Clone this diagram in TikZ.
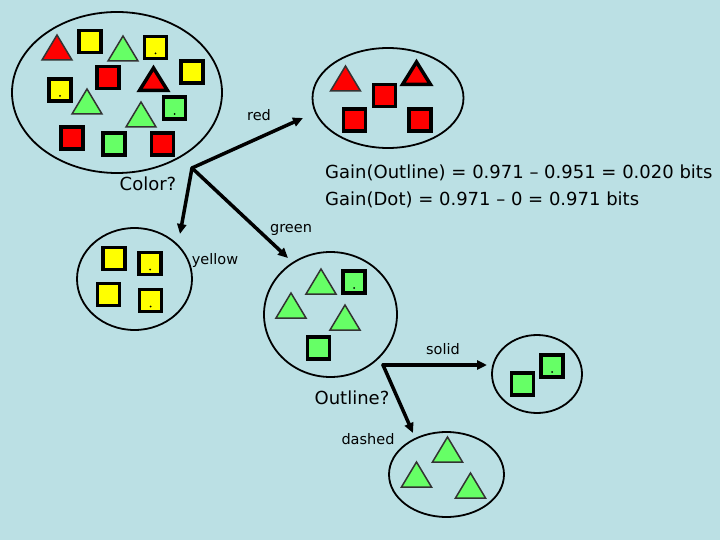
\documentclass[tikz,border=0pt]{standalone}
\usepackage{fontspec}
\setmainfont{DejaVu Sans}
\usetikzlibrary{shapes.geometric,arrows.meta}
\definecolor{bgc}{RGB}{187,224,228}
\definecolor{gr}{RGB}{102,255,102}
\definecolor{yl}{RGB}{255,255,0}
\definecolor{rd}{RGB}{255,0,0}
\newcommand{\mysq}[4]{%
  \filldraw[fill=#3,line width=3.4pt,draw=black] ({#1-11},{#2-11}) rectangle ({#1+11},{#2+11});
  \ifx#4y\fill[black] ({#1},{#2+6}) circle (1pt);\fi}
\newcommand{\mytri}[3]{%
  \filldraw[fill=#3,line width=1.5pt,line join=miter,draw=black!80] ({#1-15},#2) -- ({#1},{#2-25}) -- ({#1+15},#2) -- cycle;}
\newcommand{\mytrithick}[3]{%
  \filldraw[fill=#3,line width=3.5pt,line join=miter,draw=black] ({#1-14},{#2-1.5}) -- ({#1},{#2-24}) -- ({#1+14},{#2-1.5}) -- cycle;}
\begin{document}
\begin{tikzpicture}[x=1pt,y=-1pt,
  setell/.style={ellipse,draw=black,line width=1.8pt,inner sep=0pt},
  lbl/.style={font=\fontsize{14.5}{17}\selectfont,inner sep=0pt},
  qlbl/.style={font=\fontsize{18}{21}\selectfont,inner sep=0pt},
  glbl/.style={font=\fontsize{18}{21}\selectfont,inner sep=0pt,anchor=west},
  arr/.style={line width=3.5pt,line cap=round,-{Triangle[length=10pt,width=9pt]}}]
\fill[bgc] (0,0) rectangle (720,540);
\useasboundingbox (0,0) rectangle (720,540);
% set ellipses
\node[setell,minimum width=210,minimum height=161] (s1) at (117,92.5) {};
\node[setell,minimum width=151,minimum height=100] (s2) at (388,98) {};
\node[setell,minimum width=115,minimum height=102] (s3) at (134.5,279) {};
\node[setell,minimum width=133,minimum height=125] (s4) at (330.5,314.5) {};
\node[setell,minimum width=115,minimum height=85] (s5) at (446.5,474.5) {};
\node[setell,minimum width=90,minimum height=78] (s6) at (537,374) {};
% set 1
\mytri{57}{60}{rd}
\mytri{123}{61}{gr}
\mytrithick{153.5}{92}{rd}
\mytri{87}{114}{gr}
\mytri{141}{127}{gr}
\mysq{90}{41.5}{yl}{n}
\mysq{155.5}{47.5}{yl}{y}
\mysq{192}{72}{yl}{n}
\mysq{108}{77.5}{rd}{n}
\mysq{60}{90}{yl}{y}
\mysq{174.5}{108}{gr}{y}
\mysq{72}{138}{rd}{n}
\mysq{114}{144}{gr}{n}
\mysq{162.5}{144}{rd}{n}
% set 2
\mytri{345.5}{91}{rd}
\mytrithick{416.5}{86}{rd}
\mysq{384.5}{95.5}{rd}{n}
\mysq{354.5}{120}{rd}{n}
\mysq{420}{120}{rd}{n}
% set 3
\mysq{114}{258.5}{yl}{n}
\mysq{150}{263.5}{yl}{y}
\mysq{108.5}{294.5}{yl}{n}
\mysq{150.5}{300.5}{yl}{y}
% set 4
\mytri{321}{294}{gr}
\mytri{291}{318}{gr}
\mytri{345}{330}{gr}
\mysq{354}{282}{gr}{y}
\mysq{318.5}{348}{gr}{n}
% set 5
\mytri{447.5}{462}{gr}
\mytri{416.5}{487}{gr}
\mytri{470.5}{498}{gr}
% set 6
\mysq{522.5}{384}{gr}{n}
\mysq{552}{366}{gr}{y}
% split points and arrow tips
\coordinate (va) at (192,168);
\coordinate (ta) at (303,118);
\coordinate (tb) at (180,234);
\coordinate (tc) at (288,258);
\coordinate (vb) at (383,365);
\coordinate (td) at (487,365);
\coordinate (te) at (413,433);
\draw[arr] (va) -- (ta);
\draw[arr] (va) -- (tb);
\draw[arr] (va) -- (tc);
\draw[arr] (vb) -- (td);
\draw[arr] (vb) -- (te);
% labels
\node[lbl] (lred) at (259,115) {red};
\node[qlbl] (lcolor) at (148,184) {Color?};
\node[lbl] (lgreen) at (291,230) {green};
\node[lbl] (lyellow) at (215,260) {yellow};
\node[lbl] (lsolid) at (443,349) {solid};
\node[qlbl] (loutline) at (352,398) {Outline?};
\node[lbl] (ldashed) at (368,439) {dashed};
\node[glbl] (g1) at (325,173) {Gain(Outline) = 0.971 – 0.951 = 0.020 bits};
\node[glbl] (g2) at (325,200) {Gain(Dot) = 0.971 – 0 = 0.971 bits};
\end{tikzpicture}
\end{document}
